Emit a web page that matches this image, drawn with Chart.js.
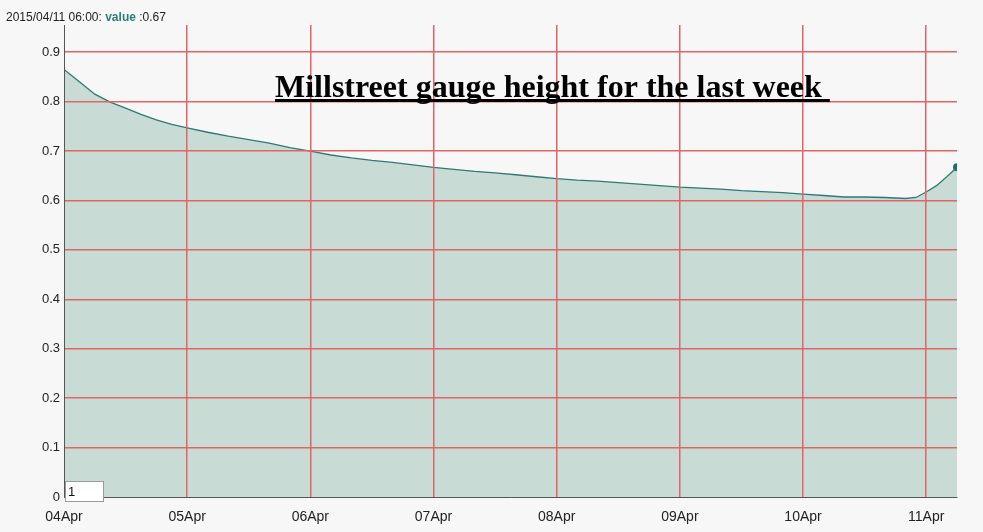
<!DOCTYPE html>
<html>
<head>
<meta charset="utf-8">
<script src="https://cdn.jsdelivr.net/npm/chart.js@4.4.0/dist/chart.umd.min.js"></script>
<style>
  html, body { margin: 0; padding: 0; background: #f7f7f7; }
  #wrap { width: 983px; height: 532px; }
</style>
</head>
<body>
<div id="wrap"><canvas id="gauge" width="983" height="532"></canvas></div>
<script>
// hours since 04Apr 00:00 and gauge height
const hours = [0, 3, 6, 9, 12, 15, 18, 21, 24, 28, 32, 36, 40, 44, 48, 52, 56, 60, 64, 68,
  72, 76, 80, 84, 88, 92, 96, 100, 104, 108, 112, 116, 120, 124, 128, 132, 136, 140, 144,
  148, 152, 156, 160, 164, 166, 168, 170, 172, 174];
const heights = [0.865, 0.840, 0.815, 0.799, 0.787, 0.774, 0.763, 0.754, 0.747, 0.738, 0.730,
  0.723, 0.716, 0.707, 0.700, 0.692, 0.686, 0.681, 0.677, 0.672, 0.667, 0.663, 0.659, 0.656,
  0.652, 0.648, 0.644, 0.641, 0.639, 0.636, 0.633, 0.630, 0.627, 0.625, 0.623, 0.620, 0.618,
  0.616, 0.613, 0.610, 0.607, 0.607, 0.606, 0.604, 0.606, 0.617, 0.630, 0.648, 0.667];
const dayTicks = [0, 24, 48, 72, 96, 120, 144, 168];
const dayLabels = ['04Apr', '05Apr', '06Apr', '07Apr', '08Apr', '09Apr', '10Apr', '11Apr'];
const yTicks = [0, 0.1, 0.2, 0.3, 0.4, 0.5, 0.6, 0.7, 0.8, 0.9];

const chartTitle = 'Millstreet gauge height for the last week';
const hoverTime = '2015/04/11 06:00:';
const hoverValue = heights[heights.length - 1];

const points = hours.map((h, i) => ({ x: h, y: heights[i] }));

const gridRed = '#e26464';

// extra text drawn on the canvas: hover readout, title, range box
const decorations = {
  id: 'decorations',
  beforeDraw(chart) {
    const ctx = chart.ctx;
    ctx.save();
    ctx.fillStyle = '#f7f7f7';
    ctx.fillRect(0, 0, chart.width, chart.height);
    ctx.restore();
  },
  afterDraw(chart) {
    const ctx = chart.ctx;
    ctx.save();

    // hover readout top left
    ctx.textBaseline = 'alphabetic';
    ctx.textAlign = 'left';
    ctx.font = '12px "Liberation Sans", Arial, sans-serif';
    ctx.fillStyle = '#222';
    let x = 6;
    ctx.fillText(hoverTime + ' ', x, 21);
    x += ctx.measureText(hoverTime + ' ').width;
    ctx.font = 'bold 12px "Liberation Sans", Arial, sans-serif';
    ctx.fillStyle = '#2a7f78';
    ctx.fillText('value', x, 21);
    x += ctx.measureText('value').width;
    ctx.font = '12px "Liberation Sans", Arial, sans-serif';
    ctx.fillStyle = '#222';
    ctx.fillText(' :' + hoverValue.toFixed(2), x, 21);

    // title with underline
    ctx.font = 'bold 32px "Liberation Serif", "Times New Roman", serif';
    ctx.fillStyle = '#000';
    ctx.textAlign = 'left';
    const tx = 275;
    ctx.fillText(chartTitle, tx, 97);
    const tw = ctx.measureText(chartTitle + ' ').width;
    ctx.fillRect(tx, 99, tw, 3);

    // little range box bottom left
    ctx.fillStyle = '#ffffff';
    ctx.fillRect(65.5, 481.5, 38, 20);
    ctx.strokeStyle = '#9a9a9a';
    ctx.lineWidth = 1;
    ctx.strokeRect(65.5, 481.5, 38, 20);
    ctx.fillStyle = '#111';
    ctx.font = '13px "Liberation Sans", Arial, sans-serif';
    ctx.textBaseline = 'middle';
    ctx.fillText('1', 68, 492);

    ctx.restore();
  }
};

new Chart(document.getElementById('gauge'), {
  type: 'line',
  data: {
    datasets: [{
      label: 'value',
      data: points,
      borderColor: '#2f7a74',
      borderWidth: 1.3,
      backgroundColor: '#c8dbd5',
      fill: 'origin',
      tension: 0,
      pointRadius: points.map((p, i) => i === points.length - 1 ? 4 : 0),
      pointBackgroundColor: '#1f6f69',
      pointBorderWidth: 0
    }]
  },
  options: {
    responsive: false,
    animation: false,
    devicePixelRatio: 1,
    layout: { padding: { top: 25, right: 26, left: 0, bottom: 0 } },
    plugins: {
      legend: { display: false },
      tooltip: { enabled: false },
      title: { display: false }
    },
    scales: {
      x: {
        type: 'linear',
        min: 0,
        max: 174,
        afterBuildTicks(scale) {
          scale.ticks = dayTicks.map(v => ({ value: v }));
        },
        afterFit(scale) { scale.height = 35; },
        ticks: {
          padding: 12,
          maxRotation: 0,
          autoSkip: false,
          color: '#222',
          font: { family: '"Liberation Sans", Arial, sans-serif', size: 14 },
          callback: (v) => dayLabels[dayTicks.indexOf(v)]
        },
        grid: {
          color: (c) => c.tick && c.tick.value === 0 ? 'rgba(0,0,0,0)' : gridRed,
          lineWidth: 1.5, drawTicks: false, z: 1
        },
        border: { color: '#555', width: 1, z: 2 }
      },
      y: {
        min: 0,
        max: 0.955,
        afterBuildTicks(scale) {
          scale.ticks = yTicks.map(v => ({ value: v }));
        },
        afterFit(scale) { scale.width = 64; },
        ticks: {
          padding: 4,
          color: '#222',
          font: { family: '"Liberation Sans", Arial, sans-serif', size: 13 },
          callback: (v) => String(Math.round(v * 10) / 10)
        },
        grid: {
          color: (c) => c.tick && c.tick.value === 0 ? 'rgba(0,0,0,0)' : gridRed,
          lineWidth: 1.5, drawTicks: false, z: 1
        },
        border: { color: '#555', width: 1, z: 2 }
      }
    }
  },
  plugins: [decorations]
});
</script>
</body>
</html>
